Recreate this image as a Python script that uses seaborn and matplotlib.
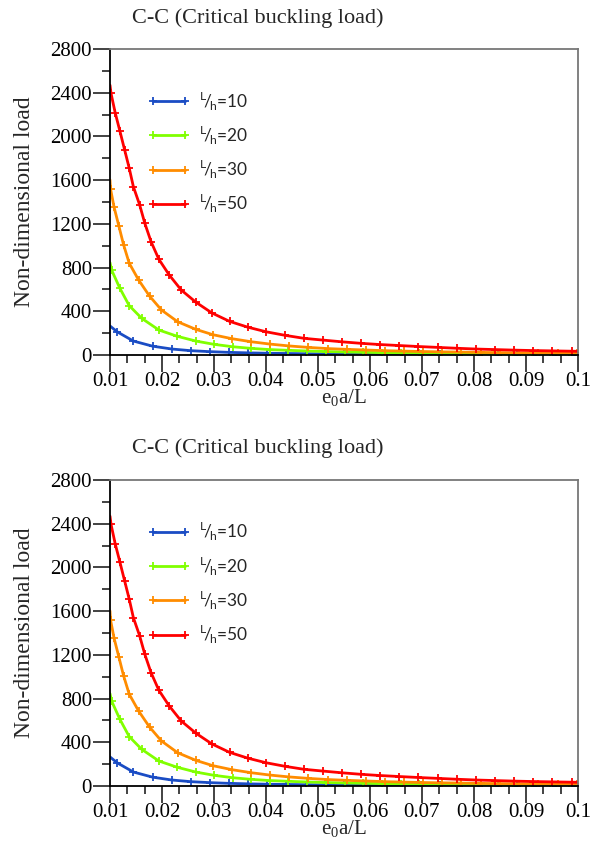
import numpy as np
import pandas as pd
import matplotlib
matplotlib.use("Agg")
import matplotlib.pyplot as plt
from matplotlib.lines import Line2D
from matplotlib.ticker import MultipleLocator, AutoMinorLocator
import seaborn as sns

# Data (marker positions, plus line end points)
blue_x = [0.0100, 0.0114, 0.0145, 0.0182, 0.0219, 0.0255, 0.0292, 0.0328, 0.0365, 0.0402,
          0.0439, 0.0476, 0.0513, 0.0550, 0.0587, 0.0624, 0.0661, 0.0698, 0.0735, 0.0772,
          0.0809, 0.0846, 0.0883, 0.0920, 0.0957, 0.0994, 0.1000]
blue_y = [266, 212, 128, 81, 55, 40, 31, 24.5, 20, 16.5,
          14, 12, 10, 9, 8, 7, 6, 5.5, 5, 4.5,
          4, 3.7, 3.4, 3.1, 2.9, 2.7, 2.7]

green_x = [0.0100, 0.0103, 0.0119, 0.0137, 0.0161, 0.0194, 0.0229, 0.0265, 0.0300, 0.0336,
           0.0371, 0.0407, 0.0443, 0.0479, 0.0515, 0.0551, 0.0587, 0.0623, 0.0659, 0.0695,
           0.0731, 0.0767, 0.0803, 0.0839, 0.0875, 0.0911, 0.0947, 0.0983, 0.1000]
green_y = [846, 779, 611, 452, 336, 229, 172, 128, 98, 76,
           61, 50, 43, 37, 32, 28, 25, 22, 19.5, 17.5,
           16, 14.5, 13, 12, 11, 10, 9.5, 9, 8.5]

orange_x = [0.0100, 0.0101, 0.0108, 0.0117, 0.0126, 0.0137, 0.0155, 0.0176, 0.0199, 0.0230,
            0.0265, 0.0298, 0.0334, 0.0371, 0.0408, 0.0445, 0.0481, 0.0519, 0.0555, 0.0592,
            0.0628, 0.0665, 0.0702, 0.0739, 0.0776, 0.0813, 0.0850, 0.0887, 0.0924, 0.0961,
            0.0998, 0.1000]
orange_y = [1603, 1521, 1350, 1182, 1011, 840, 687, 540, 412, 305,
            235, 186, 150, 122, 100, 83, 70, 59, 52, 46,
            40, 36, 32, 29, 27, 24, 22, 20, 19, 17,
            16, 16]

red_x = [0.0100, 0.0102, 0.0110, 0.0119, 0.0128, 0.0137, 0.0145, 0.0157, 0.0167, 0.0179,
         0.0194, 0.0214, 0.0237, 0.0265, 0.0296, 0.0330, 0.0365, 0.0400, 0.0437, 0.0473,
         0.0509, 0.0546, 0.0583, 0.0619, 0.0656, 0.0693, 0.0730, 0.0767, 0.0804, 0.0840,
         0.0877, 0.0914, 0.0951, 0.0988, 0.1000]
red_y = [2470, 2394, 2217, 2050, 1880, 1710, 1540, 1375, 1205, 1037,
         876, 732, 595, 484, 385, 308, 255, 213, 180, 153,
         137, 121, 107, 96, 87, 78, 70, 62, 55, 50,
         45, 41, 38, 35, 34]

ratios = ["10", "20", "30", "50"]
colors = ["#1a4cc4", "#80ff00", "#ff8c00", "#ff0000"]
xtick_labels = ["0.01", "0.02", "0.03", "0.04", "0.05", "0.06", "0.07", "0.08", "0.09", "0.1"]
title_text = "C-C (Critical buckling load)"

series = [(blue_x, blue_y), (green_x, green_y), (orange_x, orange_y), (red_x, red_y)]

sns.set_style("ticks")
plt.rcParams["font.family"] = ["Liberation Serif", "DejaVu Serif"]
plt.rcParams["mathtext.fontset"] = "custom"
plt.rcParams["mathtext.rm"] = "Liberation Serif"
plt.rcParams["mathtext.sf"] = "Lato"

fig = plt.figure(figsize=(6.03, 8.63), dpi=100)
ax_top = fig.add_axes([0.1824, 0.5886, 0.7761, 0.3546])
ax_bot = fig.add_axes([0.1824, 0.0892, 0.7761, 0.3546])


def draw_panel(ax):
    for (xs, ys), c in zip(series, colors):
        df = pd.DataFrame({"x": xs, "y": ys})
        sns.lineplot(data=df, x="x", y="y", ax=ax, color=c, lw=2, sort=False,
                     estimator=None, errorbar=None, marker="+", ms=5.5,
                     mew=1.3, mec=c, markevery=slice(1, -1))
    ax.set_xlim(0.01, 0.1)
    ax.set_ylim(0, 2800)
    ax.set_xticks(np.linspace(0.01, 0.1, 10))
    ax.set_xticklabels(xtick_labels)
    ax.xaxis.set_minor_locator(AutoMinorLocator(3))
    ax.yaxis.set_major_locator(MultipleLocator(400))
    ax.yaxis.set_minor_locator(AutoMinorLocator(2))
    ax.tick_params(which="major", direction="out", length=12, width=1.2,
                   colors="#222222", labelsize=15, labelcolor="black")
    ax.tick_params(which="minor", direction="out", length=6, width=1.2, colors="#222222")
    ax.tick_params(axis="x", which="major", pad=0)
    ax.tick_params(axis="y", which="major", pad=1)
    ax.tick_params(top=False, right=False, which="both")
    for side in ["left", "bottom"]:
        ax.spines[side].set_color("black")
        ax.spines[side].set_linewidth(1.3)
    for side in ["top", "right"]:
        ax.spines[side].set_visible(True)
        ax.spines[side].set_color("#777777")
        ax.spines[side].set_linewidth(1.3)

    ax.set_xlabel(r"e$_{\mathrm{0}}$a/L", fontsize=15)
    ax.set_ylabel("Non-dimensional load", fontsize=17)
    ax.xaxis.set_label_coords(0.5, -0.142)
    ax.xaxis.label.set_va("center")
    ax.yaxis.set_label_coords(-0.183, 0.5)
    ax.yaxis.label.set_va("center")

    handles = [Line2D([], [], color=c, lw=2, marker="+", ms=5.5, mew=1.3) for c in colors]
    labels = [r"$^{\mathsf{L}}\!\mathsf{/}_{\!\mathsf{h}}$=" + r for r in ratios]
    ax.legend(handles, labels, loc="upper left", bbox_to_anchor=(0.081, 0.868),
              frameon=False, borderpad=0, borderaxespad=0, numpoints=2,
              handlelength=2.45, handletextpad=0.5, labelspacing=0.63,
              prop={"family": "Lato", "size": 12.5})


draw_panel(ax_top)
draw_panel(ax_bot)

fig.text(258 / 603, 1 - 18 / 863, title_text, ha="center", va="center", fontsize=16)
fig.text(258 / 603, 1 - 448 / 863, title_text, ha="center", va="center", fontsize=16)

fig.savefig("out.png", dpi=100)
